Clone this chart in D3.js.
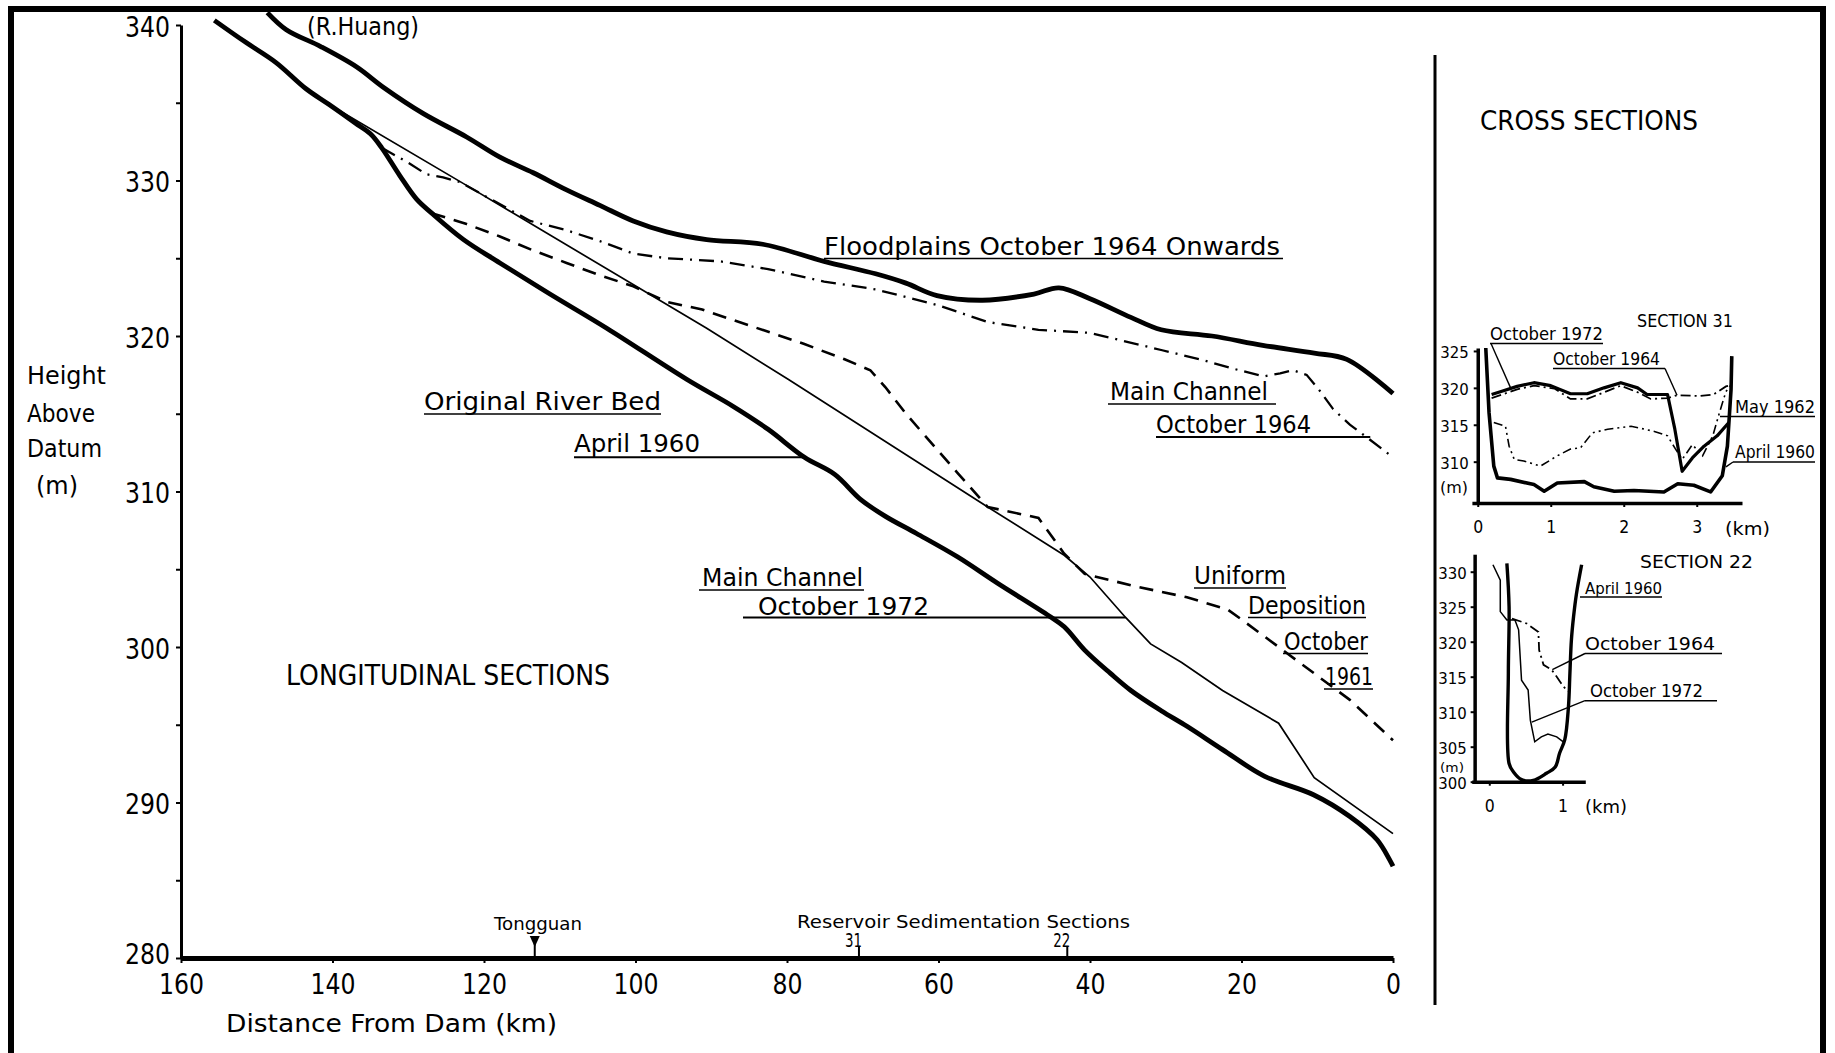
<!DOCTYPE html>
<html>
<head>
<meta charset="utf-8">
<script src="https://cdn.jsdelivr.net/npm/d3@7"></script>
<style>
  html, body { margin: 0; padding: 0; background: #fff; }
  svg text { font-family: "DejaVu Sans", "Noto Sans", sans-serif; fill: #000; }
</style>
</head>
<body>
<svg id="chart" width="1835" height="1053"></svg>
<script>
// ---- Longitudinal sections: [distance from dam (km), height above datum (m)] ----
const floodplains1964 = [[148.6,340.8],[146.1,339.7],[141.5,338.6],[136.8,337.3],[133.3,336.0],[128.0,334.3],[122.3,332.8],[117.9,331.5],[113.5,330.5],[109.1,329.4],[104.7,328.4],[100.3,327.4],[95.9,326.7],[90.6,326.2],[83.2,325.9],[75.1,324.8],[68.3,324.0],[64.3,323.4],[60.2,322.6],[54.2,322.3],[47.4,322.7],[44.1,323.1],[40.0,322.4],[34.6,321.2],[30.6,320.4],[23.9,320.0],[17.2,319.4],[10.4,318.9],[6.1,318.5],[0,316.3]];
const originalBed1960 = [[155.6,340.3],[151.5,338.9],[147.5,337.6],[143.5,335.9],[140.5,334.9],[137.0,333.7],[135.0,333.0],[133.5,332.1],[131.1,330.3],[128.9,328.8],[126.9,327.9],[122.7,326.2],[117.9,324.7],[111.3,322.7],[103.8,320.5],[93.2,317.2],[87.2,315.5],[82.5,314.0],[77.7,312.2],[73.7,311.1],[70.3,309.5],[67.0,308.4],[62.9,307.3],[57.5,305.8],[52.2,304.1],[45.4,302.0],[43.4,301.3],[40.7,299.8],[37.3,298.3],[34.6,297.2],[30.6,295.9],[27.2,294.9],[22.5,293.4],[17.0,291.7],[10.5,290.5],[5.7,289.1],[2.1,287.6],[0,285.9]];
const mainChannel1972 = [[140.5,334.9],[122.7,329.8],[90.6,320.5],[79.8,317.2],[53.5,309.0],[43.4,305.9],[40.0,304.5],[35.3,301.9],[32.0,300.2],[27.9,299.0],[22.5,297.2],[15.1,295.1],[10.4,291.6],[0,288.0]];
const mainChannel1964 = [[133.5,332.1],[130.2,331.2],[127.6,330.4],[125.4,330.2],[123.2,329.9],[113.9,327.4],[109.1,326.8],[104.7,326.1],[100.3,325.3],[95.9,325.0],[88.8,324.8],[82.5,324.3],[75.1,323.5],[68.3,323.0],[60.2,322.0],[53.5,320.9],[46.8,320.4],[40.0,320.2],[30.6,319.1],[25.5,318.5],[21.1,317.9],[17.1,317.4],[14.9,317.6],[13.2,317.8],[11.4,317.5],[9.7,316.5],[7.9,315.3],[5.7,314.3],[3.5,313.5],[0,312.2]];
const uniformDeposition1961 = [[126.9,327.9],[122.3,327.2],[117.9,326.4],[113.5,325.5],[109.1,324.7],[104.7,323.9],[100.3,323.2],[95.9,322.2],[91.2,321.7],[84.5,320.6],[77.8,319.5],[72.4,318.5],[69.0,317.8],[67.0,316.7],[64.3,315.0],[60.9,313.1],[57.5,311.2],[53.5,309.0],[46.8,308.3],[43.4,306.0],[40.7,304.7],[34.0,303.9],[27.2,303.2],[21.8,302.4],[19.8,301.7],[15.1,300.0],[10.4,298.3],[5.7,296.6],[0,294.0]];

const distanceTicks = [160,140,120,100,80,60,40,20,0];
const heightTicks = [280,285,290,295,300,305,310,315,320,325,330,335,340];
const heightLabels = [280,290,300,310,320,330,340];
const tongguanKm = 113.3;
const sedimentSections = [{name:"31", km:70.5}, {name:"22", km:43.0}];

// ---- Cross section 31: [offset across valley (km), height (m)] ----
const s31April1960 = [[0.11,325.4],[0.155,316.6],[0.22,309.4],[0.27,307.8],[0.45,307.6],[0.77,306.9],[0.91,306.0],[1.09,307.1],[1.46,307.3],[1.59,306.6],[1.87,306.0],[2.14,306.1],[2.55,305.9],[2.74,307.0],[2.96,306.8],[3.19,305.9],[3.35,308.1],[3.42,312.1],[3.47,319.8],[3.48,324.3]];
const s31October1972 = [[0.19,319.1],[0.32,319.5],[0.54,320.2],[0.77,320.7],[1.0,320.3],[1.27,319.2],[1.50,319.2],[1.73,320.0],[1.96,320.7],[2.19,320.0],[2.32,319.1],[2.60,319.1],[2.70,314.4],[2.80,308.7],[2.94,310.5],[3.10,312.1],[3.28,313.5],[3.44,315.3]];
const s31October1964 = [[0.19,318.6],[0.54,319.8],[0.77,320.3],[1.05,319.9],[1.27,318.5],[1.50,318.5],[1.78,319.6],[1.96,320.3],[2.19,319.4],[2.37,318.5],[2.60,318.6],[2.73,319.0],[3.05,318.9],[3.23,319.1],[3.40,320.2],[3.47,320.4]];
const s31May1962 = [[0.22,315.3],[0.38,314.8],[0.43,312.1],[0.50,310.3],[0.63,310.1],[0.86,309.4],[1.09,310.8],[1.27,311.7],[1.41,311.9],[1.57,313.9],[1.78,314.4],[2.10,314.8],[2.42,314.1],[2.60,313.5],[2.71,311.7],[2.80,310.3],[2.94,312.3],[3.08,310.8],[3.22,313.5],[3.31,316.6],[3.40,319.5],[3.47,320.4]];
const s31HeightTicks = [310,315,320,325];
const s31OffsetTicks = [0,1,2,3];

// ---- Cross section 22 ----
const s22April1960 = [[0.24,331.2],[0.27,325.0],[0.26,315.5],[0.27,302.6],[0.33,301.4],[0.44,300.3],[0.60,300.2],[0.78,301.2],[0.90,302.1],[0.96,304.1],[1.03,306.0],[1.08,310.7],[1.10,315.5],[1.12,320.2],[1.15,323.6],[1.19,326.9],[1.26,331.0]];
const s22October1972 = [[0.05,331.0],[0.15,328.8],[0.15,324.3],[0.24,323.1],[0.35,323.1],[0.40,321.7],[0.44,314.5],[0.53,313.1],[0.56,308.8],[0.62,305.7],[0.71,306.4],[0.80,306.8],[0.92,306.4],[1.01,305.7]];
const s22October1964 = [[0.31,323.3],[0.51,322.6],[0.67,321.4],[0.68,318.8],[0.74,316.7],[0.85,316.0],[0.92,315.0],[1.01,313.6],[1.08,312.9]];
const s22HeightTicks = [300,305,310,315,320,325,330];
const s22OffsetTicks = [0,1];

// ---------------------------------------------------------------------
const W = 1835, H = 1053;
const svg = d3.select("#chart");
const INK = "#000";

// text helper: compressed lettering fitted to a given width
function txt(g, s, x, y, size, width, anchor = "start") {
  const t = g.append("text").attr("x", x).attr("y", y)
    .attr("font-size", size).attr("text-anchor", anchor).text(s);
  if (width) t.attr("textLength", width).attr("lengthAdjust", "spacingAndGlyphs");
  return t;
}
function seg(g, x1, y1, x2, y2, w = 1.6) {
  return g.append("line").attr("x1", x1).attr("y1", y1).attr("x2", x2).attr("y2", y2)
    .attr("stroke", INK).attr("stroke-width", w);
}
function styleAxis(sel, domainWidth, fontSize, charW) {
  sel.select(".domain").attr("stroke", INK).attr("stroke-width", domainWidth);
  sel.selectAll(".tick line").attr("stroke", INK).attr("stroke-width", 2);
  sel.selectAll(".tick text")
    .attr("font-size", fontSize)
    .attr("font-family", null)
    .attr("fill", INK)
    .each(function () {
      const s = this.textContent;
      if (s.length) d3.select(this).attr("textLength", s.length * charW).attr("lengthAdjust", "spacingAndGlyphs");
    });
}
const intFmt = d3.format("d");

// page frame and divider
svg.append("path").attr("d", `M11,${H} L11,9 L1823,9 L1823,${H}`)
  .attr("fill", "none").attr("stroke", INK).attr("stroke-width", 6);
seg(svg, 1435, 55, 1435, 1005, 3);

// ================= Longitudinal sections =================
const x = d3.scaleLinear().domain([160, 0]).range([181, 1393]);
const y = d3.scaleLinear().domain([280, 340]).range([958, 25]);
const main = svg.append("g");

const yAx = main.append("g").attr("transform", `translate(${x(160)},0)`)
  .call(d3.axisLeft(y).tickValues(heightTicks).tickSize(5).tickSizeOuter(0).tickPadding(6)
    .tickFormat(d => heightLabels.includes(d) ? intFmt(d) : ""));
styleAxis(yAx, 3, 28, 15);
// the lowest height label sits a little higher so it clears the distance labels
yAx.selectAll(".tick text").attr("dy", d => d === 280 ? "0.2em" : "0.4em");

const xAx = main.append("g").attr("transform", `translate(0,${y(280)})`)
  .call(d3.axisBottom(x).tickValues(distanceTicks).tickFormat(intFmt).tickSize(5).tickSizeOuter(0).tickPadding(11));
styleAxis(xAx, 5, 28, 15);

const lineMain = d3.line().x(d => x(d[0])).y(d => y(d[1]));
const smoothMain = d3.line().x(d => x(d[0])).y(d => y(d[1])).curve(d3.curveCatmullRom.alpha(0.5));

main.append("path").datum(floodplains1964).attr("d", smoothMain)
  .attr("fill", "none").attr("stroke", INK).attr("stroke-width", 4.8).attr("stroke-linejoin", "round");
main.append("path").datum(originalBed1960).attr("d", smoothMain)
  .attr("fill", "none").attr("stroke", INK).attr("stroke-width", 4.8).attr("stroke-linejoin", "round");
main.append("path").datum(mainChannel1972).attr("d", lineMain)
  .attr("fill", "none").attr("stroke", INK).attr("stroke-width", 1.7);
main.append("path").datum(mainChannel1964).attr("d", lineMain)
  .attr("fill", "none").attr("stroke", INK).attr("stroke-width", 2.3).attr("stroke-dasharray", "15 7 2 7");
main.append("path").datum(uniformDeposition1961).attr("d", lineMain)
  .attr("fill", "none").attr("stroke", INK).attr("stroke-width", 2.6).attr("stroke-dasharray", "14 9");

// labels and leaders
txt(main, "(R.Huang)", 307, 35, 24, 112);
txt(main, "Height", 27, 384, 25, 79);
txt(main, "Above", 27, 422, 25, 68);
txt(main, "Datum", 27, 457, 25, 75);
txt(main, "(m)", 36, 494, 25, 42);

txt(main, "Original River Bed", 424, 410, 24, 237); seg(main, 424, 414, 661, 414);
txt(main, "April 1960", 574, 452, 24, 126); seg(main, 574, y(312.2), x(77.7), y(312.2), 2);

txt(main, "Floodplains October 1964 Onwards", 824, 255, 25, 456); seg(main, 824, 258.5, 1283, 258.5);

txt(main, "Main Channel", 1110, 400, 25, 158); seg(main, 1108, 404, 1276, 404);
txt(main, "October 1964", 1156, 433, 25, 155); seg(main, 1156, y(313.5), x(3.0), y(313.5), 2);

txt(main, "Main Channel", 702, 586, 25, 161); seg(main, 699, 590, 864, 590);
txt(main, "October 1972", 758, 615, 25, 171); seg(main, 743, y(301.9), x(35.3), y(301.9), 2);

txt(main, "Uniform", 1194, 584, 25, 92); seg(main, 1194, 588, 1286, 588);
txt(main, "Deposition", 1248, 614, 25, 118); seg(main, 1248, 617.5, 1366, 617.5);
txt(main, "October", 1284, 650, 25, 84); seg(main, 1283, 653.5, 1368, 653.5);
txt(main, "1961", 1325, 685, 25, 48); seg(main, 1324, 689, 1373, 689);

txt(main, "LONGITUDINAL SECTIONS", 286, 685, 28, 324);
txt(main, "Distance From Dam (km)", 226, 1032, 25, 331);

// Tongguan and sedimentation section markers on the distance axis
const tg = x(tongguanKm);
main.append("path").attr("d", `M${tg - 5},936 L${tg + 5},936 L${tg},947 Z`).attr("fill", INK);
seg(main, tg, 936, tg, y(280), 2);
txt(main, "Tongguan", 494, 930, 18, 88);
txt(main, "Reservoir Sedimentation Sections", 797, 928, 18, 333);
sedimentSections.forEach(s => {
  const sx = x(s.km);
  seg(main, sx, 947, sx, y(280), 2);
  txt(main, s.name, sx + 3, 947, 19, 17, "end");
});

// ================= Cross sections =================
const cross = svg.append("g");
txt(cross, "CROSS SECTIONS", 1480, 130, 27, 218);

// --- Section 31 ---
const x31 = d3.scaleLinear().domain([-0.08, 3.62]).range([1471.9, 1742]);
const y31 = d3.scaleLinear().domain([304.4, 325.4]).range([503, 348]);
const g31 = cross.append("g");
const y31Ax = g31.append("g").attr("transform", `translate(${x31(0)},0)`)
  .call(d3.axisLeft(y31).tickValues(s31HeightTicks).tickFormat(intFmt).tickSize(4).tickSizeOuter(0).tickPadding(5));
styleAxis(y31Ax, 3.5, 16, 9.5);
y31Ax.selectAll(".tick text").attr("dy", "0.4em");
const x31Ax = g31.append("g").attr("transform", `translate(0,${y31(304.4)})`)
  .call(d3.axisBottom(x31).tickValues(s31OffsetTicks).tickFormat(intFmt).tickSize(4).tickSizeOuter(0).tickPadding(14));
styleAxis(x31Ax, 3.5, 17, 10);

const line31 = d3.line().x(d => x31(d[0])).y(d => y31(d[1]));
g31.append("path").datum(s31May1962).attr("d", line31).attr("fill", "none")
  .attr("stroke", INK).attr("stroke-width", 1.6).attr("stroke-dasharray", "9 4 2 4 2 4");
g31.append("path").datum(s31October1964).attr("d", line31).attr("fill", "none")
  .attr("stroke", INK).attr("stroke-width", 1.8).attr("stroke-dasharray", "10 4 2 4");
g31.append("path").datum(s31April1960).attr("d", line31).attr("fill", "none")
  .attr("stroke", INK).attr("stroke-width", 3.6).attr("stroke-linejoin", "round");
g31.append("path").datum(s31October1972).attr("d", line31).attr("fill", "none")
  .attr("stroke", INK).attr("stroke-width", 3.2).attr("stroke-linejoin", "round");

txt(g31, "SECTION 31", 1637, 327, 18, 96);
txt(g31, "(m)", 1440, 493, 16, 28);
txt(g31, "(km)", 1725, 535, 18, 45);
txt(g31, "October 1972", 1490, 340, 17, 113); seg(g31, 1490, 343.5, 1603, 343.5);
seg(g31, 1491, 343.5, x31(0.45), y31(320.0), 1.4);
txt(g31, "October 1964", 1553, 365, 17, 107); seg(g31, 1553, 368.5, 1665, 368.5);
seg(g31, 1665, 368.5, x31(2.73), y31(319.0), 1.4);
txt(g31, "May 1962", 1735, 413, 17, 80); seg(g31, 1720, 416.5, 1815, 416.5);
txt(g31, "April 1960", 1735, 458, 17, 80); seg(g31, 1733, 462, 1815, 462);
seg(g31, 1733, 462, x31(3.40), y31(309.3), 1.4);

// --- Section 22 ---
const x22 = d3.scaleLinear().domain([-0.24, 1.31]).range([1471.7, 1585.3]);
const y22 = d3.scaleLinear().domain([300, 332.5]).range([781.7, 554.2]);
const g22 = cross.append("g");
const y22Ax = g22.append("g").attr("transform", `translate(${x22(-0.2)},0)`)
  .call(d3.axisLeft(y22).tickValues(s22HeightTicks).tickFormat(intFmt).tickSize(4).tickSizeOuter(0).tickPadding(4));
styleAxis(y22Ax, 3.5, 16, 9.5);
y22Ax.selectAll(".tick text").attr("dy", "0.4em");
const x22Ax = g22.append("g").attr("transform", `translate(0,${y22(300)})`)
  .call(d3.axisBottom(x22).tickValues(s22OffsetTicks).tickFormat(intFmt).tickSize(4).tickSizeOuter(0).tickPadding(14));
styleAxis(x22Ax, 3.5, 17, 10);

const line22 = d3.line().x(d => x22(d[0])).y(d => y22(d[1]));
g22.append("path").datum(s22October1964).attr("d", line22).attr("fill", "none")
  .attr("stroke", INK).attr("stroke-width", 1.8).attr("stroke-dasharray", "10 4 2 4");
g22.append("path").datum(s22October1972).attr("d", line22).attr("fill", "none")
  .attr("stroke", INK).attr("stroke-width", 1.5);
g22.append("path").datum(s22April1960).attr("d", d3.line().x(d => x22(d[0])).y(d => y22(d[1])).curve(d3.curveCatmullRom.alpha(0.5)))
  .attr("fill", "none").attr("stroke", INK).attr("stroke-width", 3.4).attr("stroke-linejoin", "round");

txt(g22, "SECTION 22", 1640, 568, 18, 113);
txt(g22, "(m)", 1440, 772, 13, 24);
txt(g22, "(km)", 1585, 813, 18, 42);
txt(g22, "April 1960", 1585, 594, 16, 77); seg(g22, 1580, 597, 1662, 597);
txt(g22, "October 1964", 1585, 650, 17, 130); seg(g22, 1585, 653.5, 1722, 653.5);
seg(g22, 1585, 653.5, x22(0.86), y22(316.0), 1.4);
txt(g22, "October 1972", 1590, 697, 17, 113); seg(g22, 1585, 700.7, 1717, 700.7);
seg(g22, 1585, 700.7, x22(0.58), y22(308.5), 1.4);
</script>
</body>
</html>
